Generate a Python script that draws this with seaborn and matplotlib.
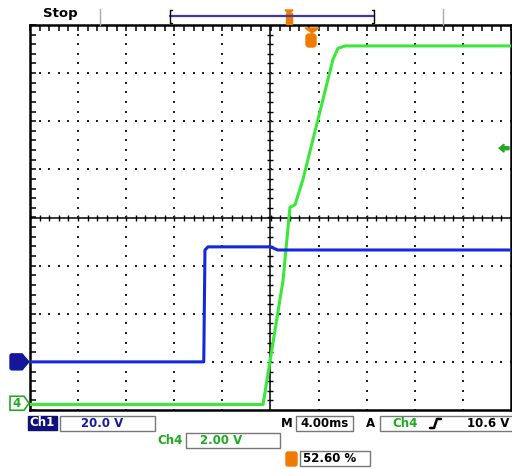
import numpy as np
import pandas as pd
import matplotlib
matplotlib.use('Agg')
import matplotlib.pyplot as plt
import seaborn as sns
from matplotlib.patches import Rectangle, FancyBboxPatch, Polygon

# scope settings
time_per_div = 4.0      # ms/div
ch1_scale = 20.0        # V/div
ch1_offset = -3.0       # div
ch4_scale = 2.0         # V/div
ch4_offset = -3.86      # div
trigger_level = 10.6    # V on Ch4

# channel 1 (blue), time in ms from screen centre, volts
ch1_t = [-20.0, -5.55, -5.45, -5.2, 0.0, 0.6, 20.0]
ch1_v = [0.0, 0.0, 46.5, 47.8, 47.8, 46.5, 46.5]
# channel 4 (green)
ch4_t = [-20.0, -0.62, 1.04, 1.62, 2.04, 2.70, 5.2, 5.61, 6.2, 20.0]
ch4_v = [-0.05, -0.05, 5.1, 8.15, 8.25, 9.3, 14.3, 14.75, 14.85, 14.85]

ch1 = pd.DataFrame({'t': ch1_t, 'v': ch1_v})
ch4 = pd.DataFrame({'t': ch4_t, 'v': ch4_v})

sns.set_style('white')
W, H = 512, 469
fig = plt.figure(figsize=(W / 100, H / 100), dpi=100)
fig.patch.set_facecolor('white')

# graticule axes, in divisions
ax = fig.add_axes([30 / W, (H - 410) / H, 481 / W, 385 / H])
ax.set_xlim(-5 * time_per_div, 5 * time_per_div)
ax.set_ylim(-4, 4)
for s in ax.spines.values():
    s.set_color('black')
    s.set_linewidth(1.8)
ax.set_xticks(np.arange(-20, 20.01, 0.8))
ax.set_yticks(np.arange(-4, 4.01, 0.2))
ax.tick_params(direction='in', length=4.5, width=1.1, top=True, right=True,
               labelbottom=False, labelleft=False, color='black')

# centre cross with small ticks
ax.axhline(0, color='black', lw=1.1, zorder=1)
ax.axvline(0, color='black', lw=1.1, zorder=1)
cx = np.arange(-20, 20.01, 0.8)
cy = np.arange(-4, 4.01, 0.2)
ax.plot(cx, np.zeros_like(cx), ls='none', marker='|', ms=5, mew=1, color='black', zorder=1)
ax.plot(np.zeros_like(cy), cy, ls='none', marker='_', ms=5, mew=1, color='black', zorder=1)

# dotted grid
for gx in [-16, -12, -8, -4, 4, 8, 12, 16]:
    ax.scatter(np.full_like(cy, gx), cy, s=1.8, marker='s', color='#222222', lw=0, zorder=1)
for gy in [-3, -2, -1, 1, 2, 3]:
    ax.scatter(cx, np.full_like(cx, gy), s=1.8, marker='s', color='#222222', lw=0, zorder=1)

# channel axes, in volts
ax4 = ax.twinx()
ax4.set_ylim((-4 - ch4_offset) * ch4_scale, (4 - ch4_offset) * ch4_scale)
ax4.axis('off')
ax1 = ax.twinx()
ax1.set_ylim((-4 - ch1_offset) * ch1_scale, (4 - ch1_offset) * ch1_scale)
ax1.axis('off')

green = '#3ae83a'
blue = '#1428dc'
orange = '#f07a00'
sns.lineplot(data=ch4, x='t', y='v', ax=ax4, color=green, lw=2.2, sort=False, estimator=None)
sns.lineplot(data=ch1, x='t', y='v', ax=ax1, color=blue, lw=2.2, sort=False, estimator=None)
ax4.set_xlim(ax.get_xlim())
ax1.set_xlim(ax.get_xlim())

# overlay in pixel coordinates
ov = fig.add_axes([0, 0, 1, 1])
ov.set_xlim(0, W)
ov.set_ylim(H, 0)
ov.axis('off')
ov.patch.set_alpha(0)


def ypix(axis, v):
    return H - axis.transData.transform((0, v))[1]


txt = dict(fontsize=8.5, fontweight='bold', va='center', family='DejaVu Sans')

# top status bar
ov.text(43, 14, 'Stop', color='black', ha='left', fontsize=9.5, fontweight='bold', va='center')
for xs in [100, 443]:
    ov.plot([xs, xs], [9, 25], color='#aaaaaa', lw=1)
ov.plot([170, 374], [16, 16], color='#3a3ab0', lw=1.6)
ov.plot([172, 170, 170, 172], [10, 10, 23, 23], color='black', lw=1)
ov.plot([372, 374, 374, 372], [10, 10, 23, 23], color='black', lw=1)
ov.add_patch(Polygon([[285, 10], [293, 10], [289, 14]], color=orange))
ov.add_patch(Rectangle((286, 13), 6, 11, color=orange))

# trigger position marker
ov.add_patch(Polygon([[305, 28], [319, 28], [312, 33]], color=orange))
ov.add_patch(FancyBboxPatch((306, 34), 10, 13, boxstyle='round,pad=0,rounding_size=3', color=orange))

# trigger level arrow on right
yt = ypix(ax4, trigger_level)
ov.add_patch(Polygon([[499, yt], [504, yt - 4], [504, yt - 1.5], [509, yt - 1.5],
                      [509, yt + 1.5], [504, yt + 1.5], [504, yt + 4]], color='#22aa22'))

# channel ground markers
y1 = ypix(ax1, 0)
ov.add_patch(FancyBboxPatch((10, y1 - 8), 13, 16, boxstyle='round,pad=0,rounding_size=2', color='#16169a'))
ov.add_patch(Polygon([[22, y1 - 8], [29, y1], [22, y1 + 8]], color='#16169a'))
y4 = ypix(ax4, 0)
ov.add_patch(Polygon([[10, y4 - 7], [24, y4 - 7], [29, y4], [24, y4 + 7], [10, y4 + 7]],
                     facecolor='white', edgecolor='#22aa22', lw=1.2))
ov.text(17, y4, '4', color='#22aa22', ha='center', **txt)

# bottom readouts
box = dict(facecolor='white', edgecolor='#777777', lw=1)
ov.add_patch(Rectangle((28, 416), 29, 14, color='#10107a'))
ov.text(42, 423, 'Ch1', color='white', ha='center', **txt)
ov.add_patch(Rectangle((60, 416), 95, 15, **box))
ov.text(102, 423.5, '20.0 V', color='#1a1aa0', ha='center', **txt)
ov.text(287, 423.5, 'M', color='black', ha='center', **txt)
ov.add_patch(Rectangle((296, 416), 57, 15, **box))
ov.text(325, 423.5, '4.00ms', color='black', ha='center', **txt)
ov.text(370, 423.5, 'A', color='black', ha='center', **txt)
ov.add_patch(Rectangle((380, 416), 135, 15, **box))
ov.text(405, 423.5, 'Ch4', color='#1faa1f', ha='center', **txt)
ov.plot([430, 434, 437, 441], [428, 428, 419, 419], color='black', lw=1.8)
ov.text(488, 423.5, '10.6 V', color='black', ha='center', **txt)

ov.text(170, 440.5, 'Ch4', color='#1faa1f', ha='center', **txt)
ov.add_patch(Rectangle((186, 433), 94, 15, **box))
ov.text(221, 440.5, '2.00 V', color='#1faa1f', ha='center', **txt)

ov.add_patch(FancyBboxPatch((286, 452), 11, 14, boxstyle='round,pad=0,rounding_size=2', color=orange))
ov.add_patch(Rectangle((300, 451), 70, 15, **box))
ov.text(330, 458.5, '52.60 %', color='black', ha='center', **txt)

fig.savefig('out.png', dpi=100, facecolor='white')
